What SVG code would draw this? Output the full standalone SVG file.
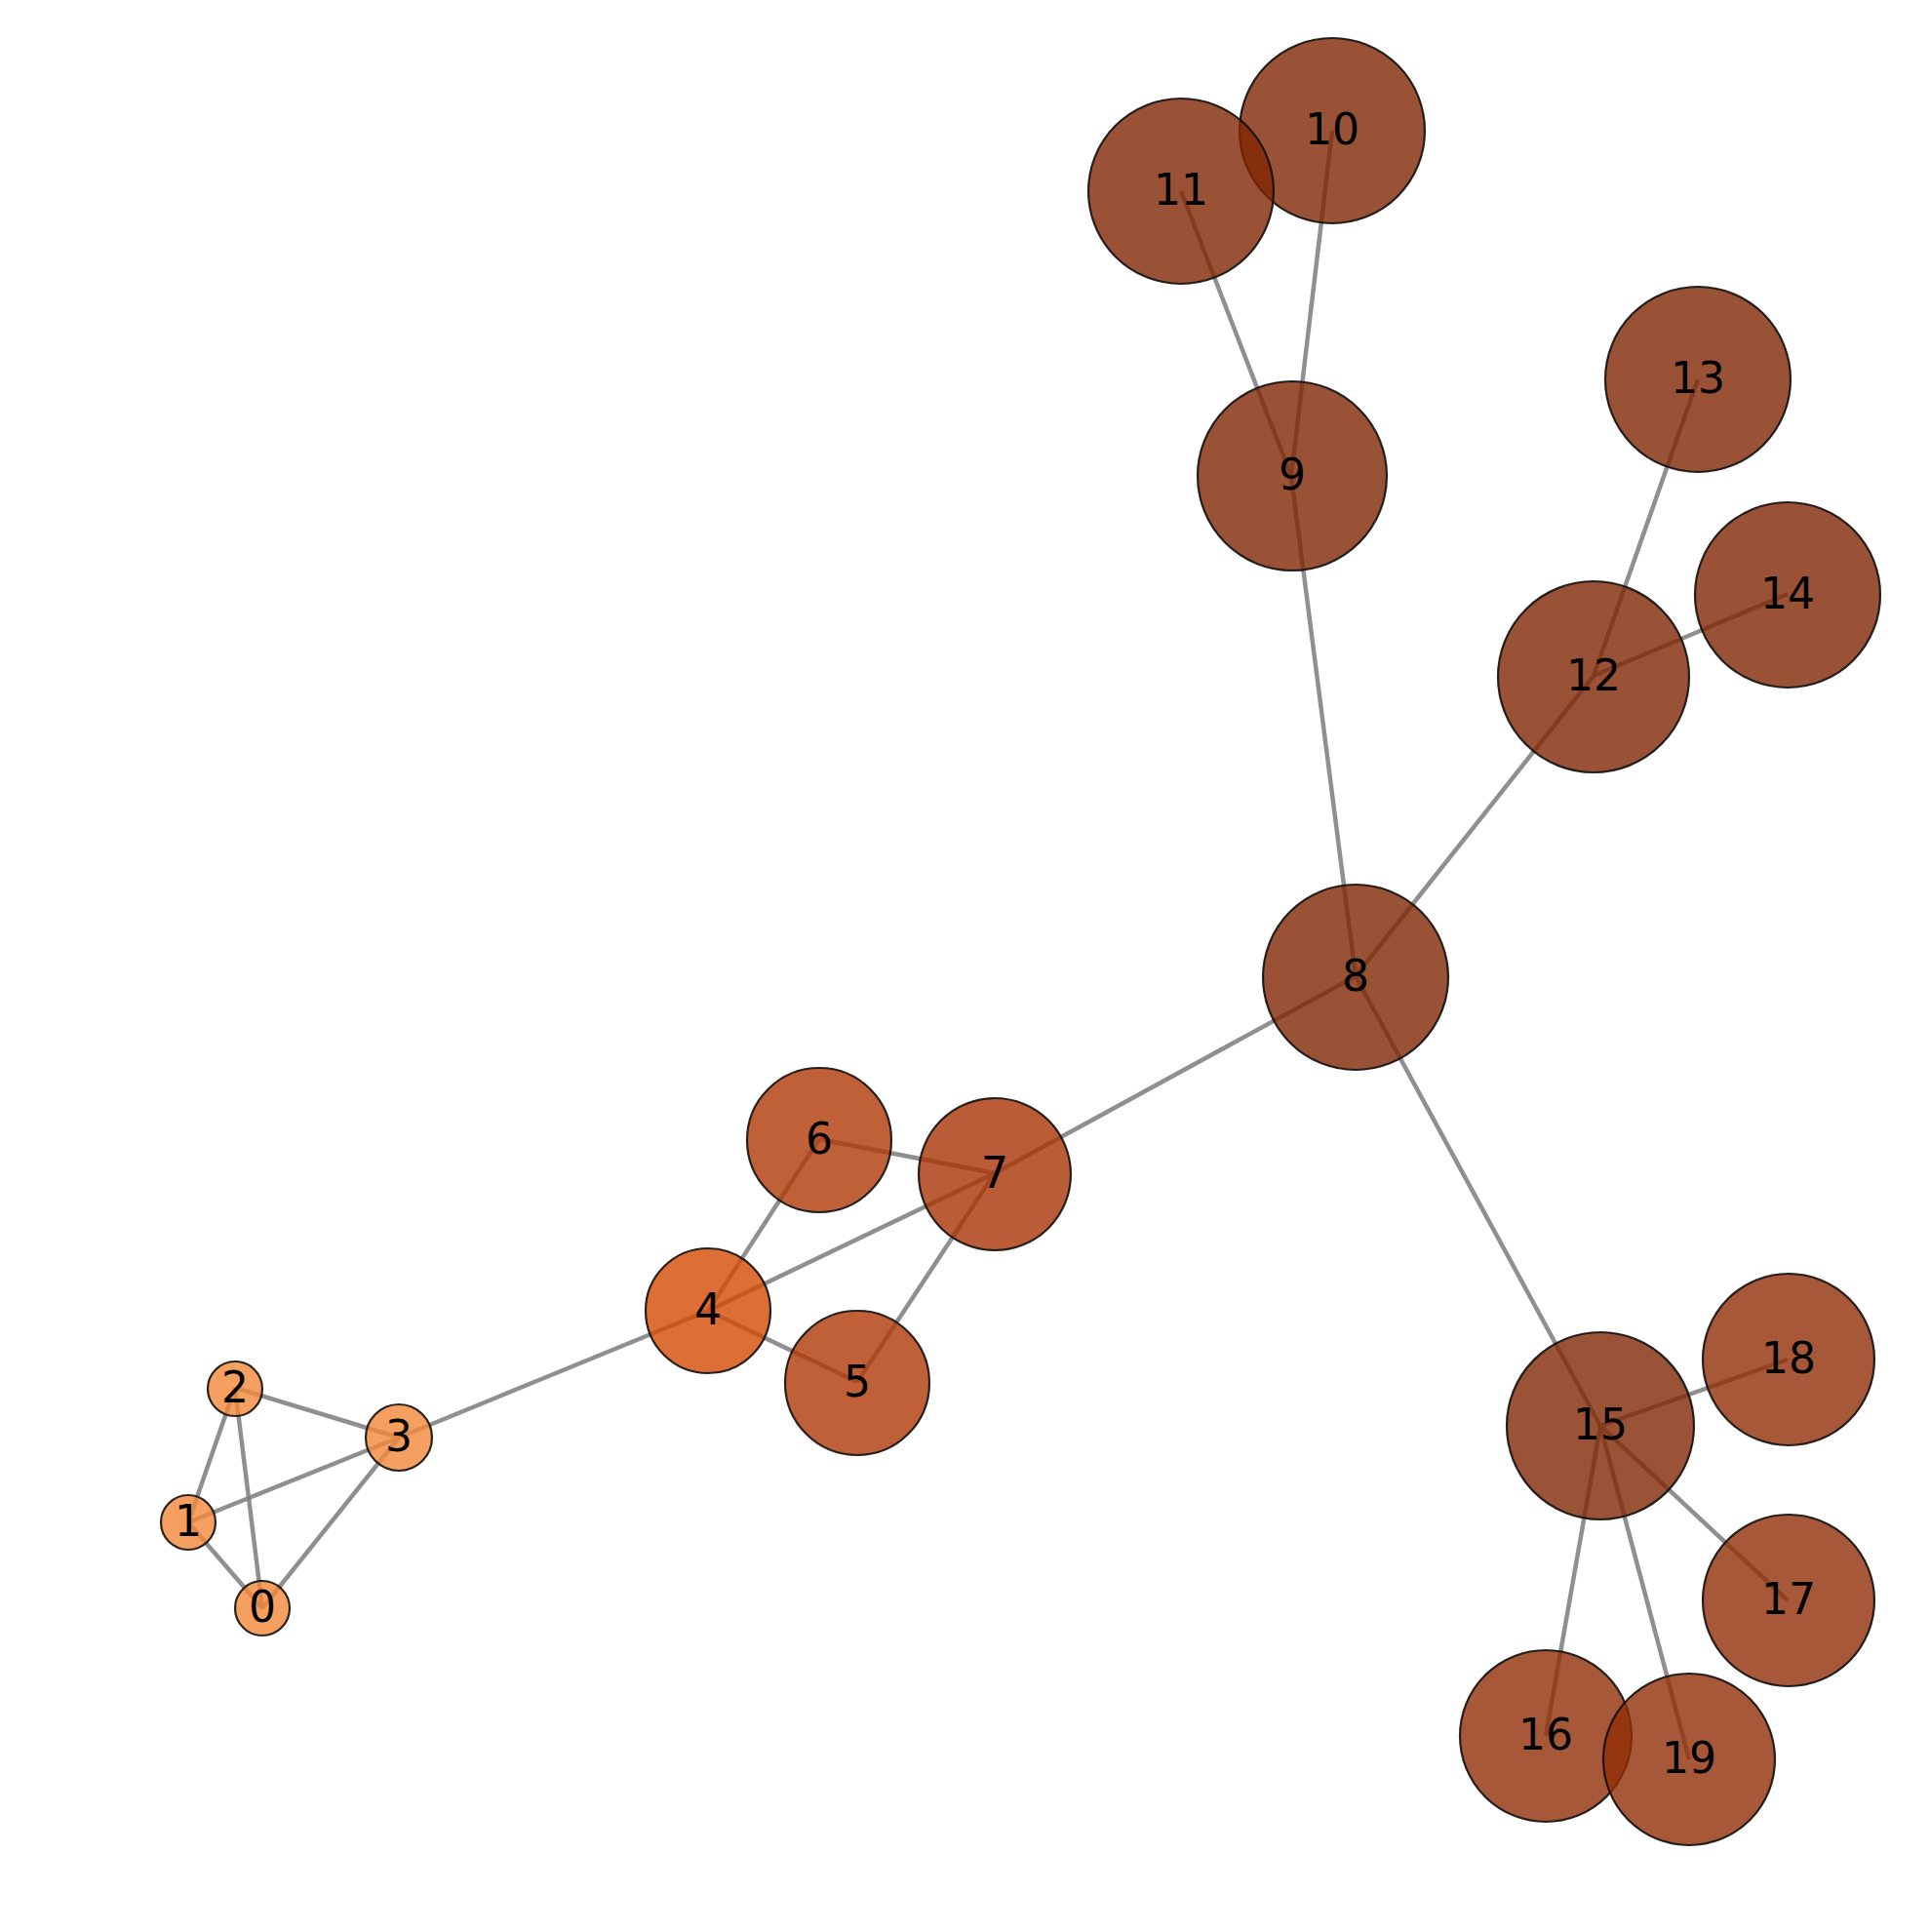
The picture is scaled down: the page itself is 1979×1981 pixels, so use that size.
<svg xmlns="http://www.w3.org/2000/svg" width="1979" height="1981" viewBox="0 0 1979 1981">
<style>
.e{stroke:#808080;stroke-opacity:0.88;stroke-width:4.5;fill:none}
.n circle{fill-opacity:0.8;stroke:#111;stroke-opacity:0.9;stroke-width:2.2}
.n text{font-family:"DejaVu Sans",sans-serif;font-size:44px;text-anchor:middle;fill:#000}
.c0{fill:#f3873a}.c4{fill:#d44a04}.c5{fill:#b03806}.c7{fill:#a83305}.c8{fill:#7f2704}.c15{fill:#812804}.c16{fill:#912e06}
</style>
<rect width="1979" height="1981" fill="#fff"/>
<g id="edges">
<line class="e" x1="269" y1="1649" x2="193" y2="1561"/>
<line class="e" x1="269" y1="1649" x2="241" y2="1423"/>
<line class="e" x1="269" y1="1649" x2="409" y2="1474"/>
<line class="e" x1="193" y1="1561" x2="241" y2="1423"/>
<line class="e" x1="193" y1="1561" x2="409" y2="1474"/>
<line class="e" x1="241" y1="1423" x2="409" y2="1474"/>
<line class="e" x1="409" y1="1474" x2="726" y2="1344"/>
<line class="e" x1="726" y1="1344" x2="879" y2="1417"/>
<line class="e" x1="726" y1="1344" x2="840" y2="1168"/>
<line class="e" x1="726" y1="1344" x2="1020" y2="1203"/>
<line class="e" x1="879" y1="1417" x2="1020" y2="1203"/>
<line class="e" x1="840" y1="1168" x2="1020" y2="1203"/>
<line class="e" x1="1020" y1="1203" x2="1390" y2="1001"/>
<line class="e" x1="1390" y1="1001" x2="1324" y2="488"/>
<line class="e" x1="1390" y1="1001" x2="1634" y2="693"/>
<line class="e" x1="1390" y1="1001" x2="1641" y2="1462"/>
<line class="e" x1="1324" y1="488" x2="1366" y2="134"/>
<line class="e" x1="1324" y1="488" x2="1211" y2="196"/>
<line class="e" x1="1634" y1="693" x2="1741" y2="389"/>
<line class="e" x1="1634" y1="693" x2="1833" y2="609"/>
<line class="e" x1="1641" y1="1462" x2="1585" y2="1780"/>
<line class="e" x1="1641" y1="1462" x2="1833" y2="1641"/>
<line class="e" x1="1641" y1="1462" x2="1833" y2="1394"/>
<line class="e" x1="1641" y1="1462" x2="1732" y2="1804"/>
</g>
<g id="node0" class="n"><circle class="c0" cx="269" cy="1649" r="28"/><text x="269" y="1663">0</text></g>
<g id="node1" class="n"><circle class="c0" cx="193" cy="1561" r="28"/><text x="193" y="1575">1</text></g>
<g id="node2" class="n"><circle class="c0" cx="241" cy="1424" r="28"/><text x="241" y="1438">2</text></g>
<g id="node3" class="n"><circle class="c0" cx="409" cy="1474" r="34"/><text x="409" y="1488">3</text></g>
<g id="node4" class="n"><circle class="c4" cx="726" cy="1344" r="64"/><text x="726" y="1358">4</text></g>
<g id="node5" class="n"><circle class="c5" cx="879" cy="1418" r="74"/><text x="879" y="1432">5</text></g>
<g id="node6" class="n"><circle class="c5" cx="840" cy="1169" r="74"/><text x="840" y="1183">6</text></g>
<g id="node7" class="n"><circle class="c7" cx="1020" cy="1204" r="78"/><text x="1020" y="1218">7</text></g>
<g id="node8" class="n"><circle class="c8" cx="1390" cy="1002" r="95"/><text x="1390" y="1016">8</text></g>
<g id="node9" class="n"><circle class="c8" cx="1325" cy="488" r="97"/><text x="1325" y="502">9</text></g>
<g id="node10" class="n"><circle class="c8" cx="1366" cy="134" r="95"/><text x="1366" y="148">10</text></g>
<g id="node11" class="n"><circle class="c8" cx="1211" cy="196" r="95"/><text x="1211" y="210">11</text></g>
<g id="node12" class="n"><circle class="c8" cx="1634" cy="694" r="98"/><text x="1634" y="708">12</text></g>
<g id="node13" class="n"><circle class="c8" cx="1741" cy="389" r="95"/><text x="1741" y="403">13</text></g>
<g id="node14" class="n"><circle class="c8" cx="1833" cy="610" r="95"/><text x="1833" y="624">14</text></g>
<g id="node15" class="n"><circle class="c15" cx="1641" cy="1462" r="96"/><text x="1641" y="1476">15</text></g>
<g id="node16" class="n"><circle class="c16" cx="1585" cy="1780" r="88"/><text x="1585" y="1794">16</text></g>
<g id="node17" class="n"><circle class="c16" cx="1834" cy="1641" r="88"/><text x="1834" y="1655">17</text></g>
<g id="node18" class="n"><circle class="c16" cx="1834" cy="1394" r="88"/><text x="1834" y="1408">18</text></g>
<g id="node19" class="n"><circle class="c16" cx="1732" cy="1804" r="88"/><text x="1732" y="1818">19</text></g>
</svg>
